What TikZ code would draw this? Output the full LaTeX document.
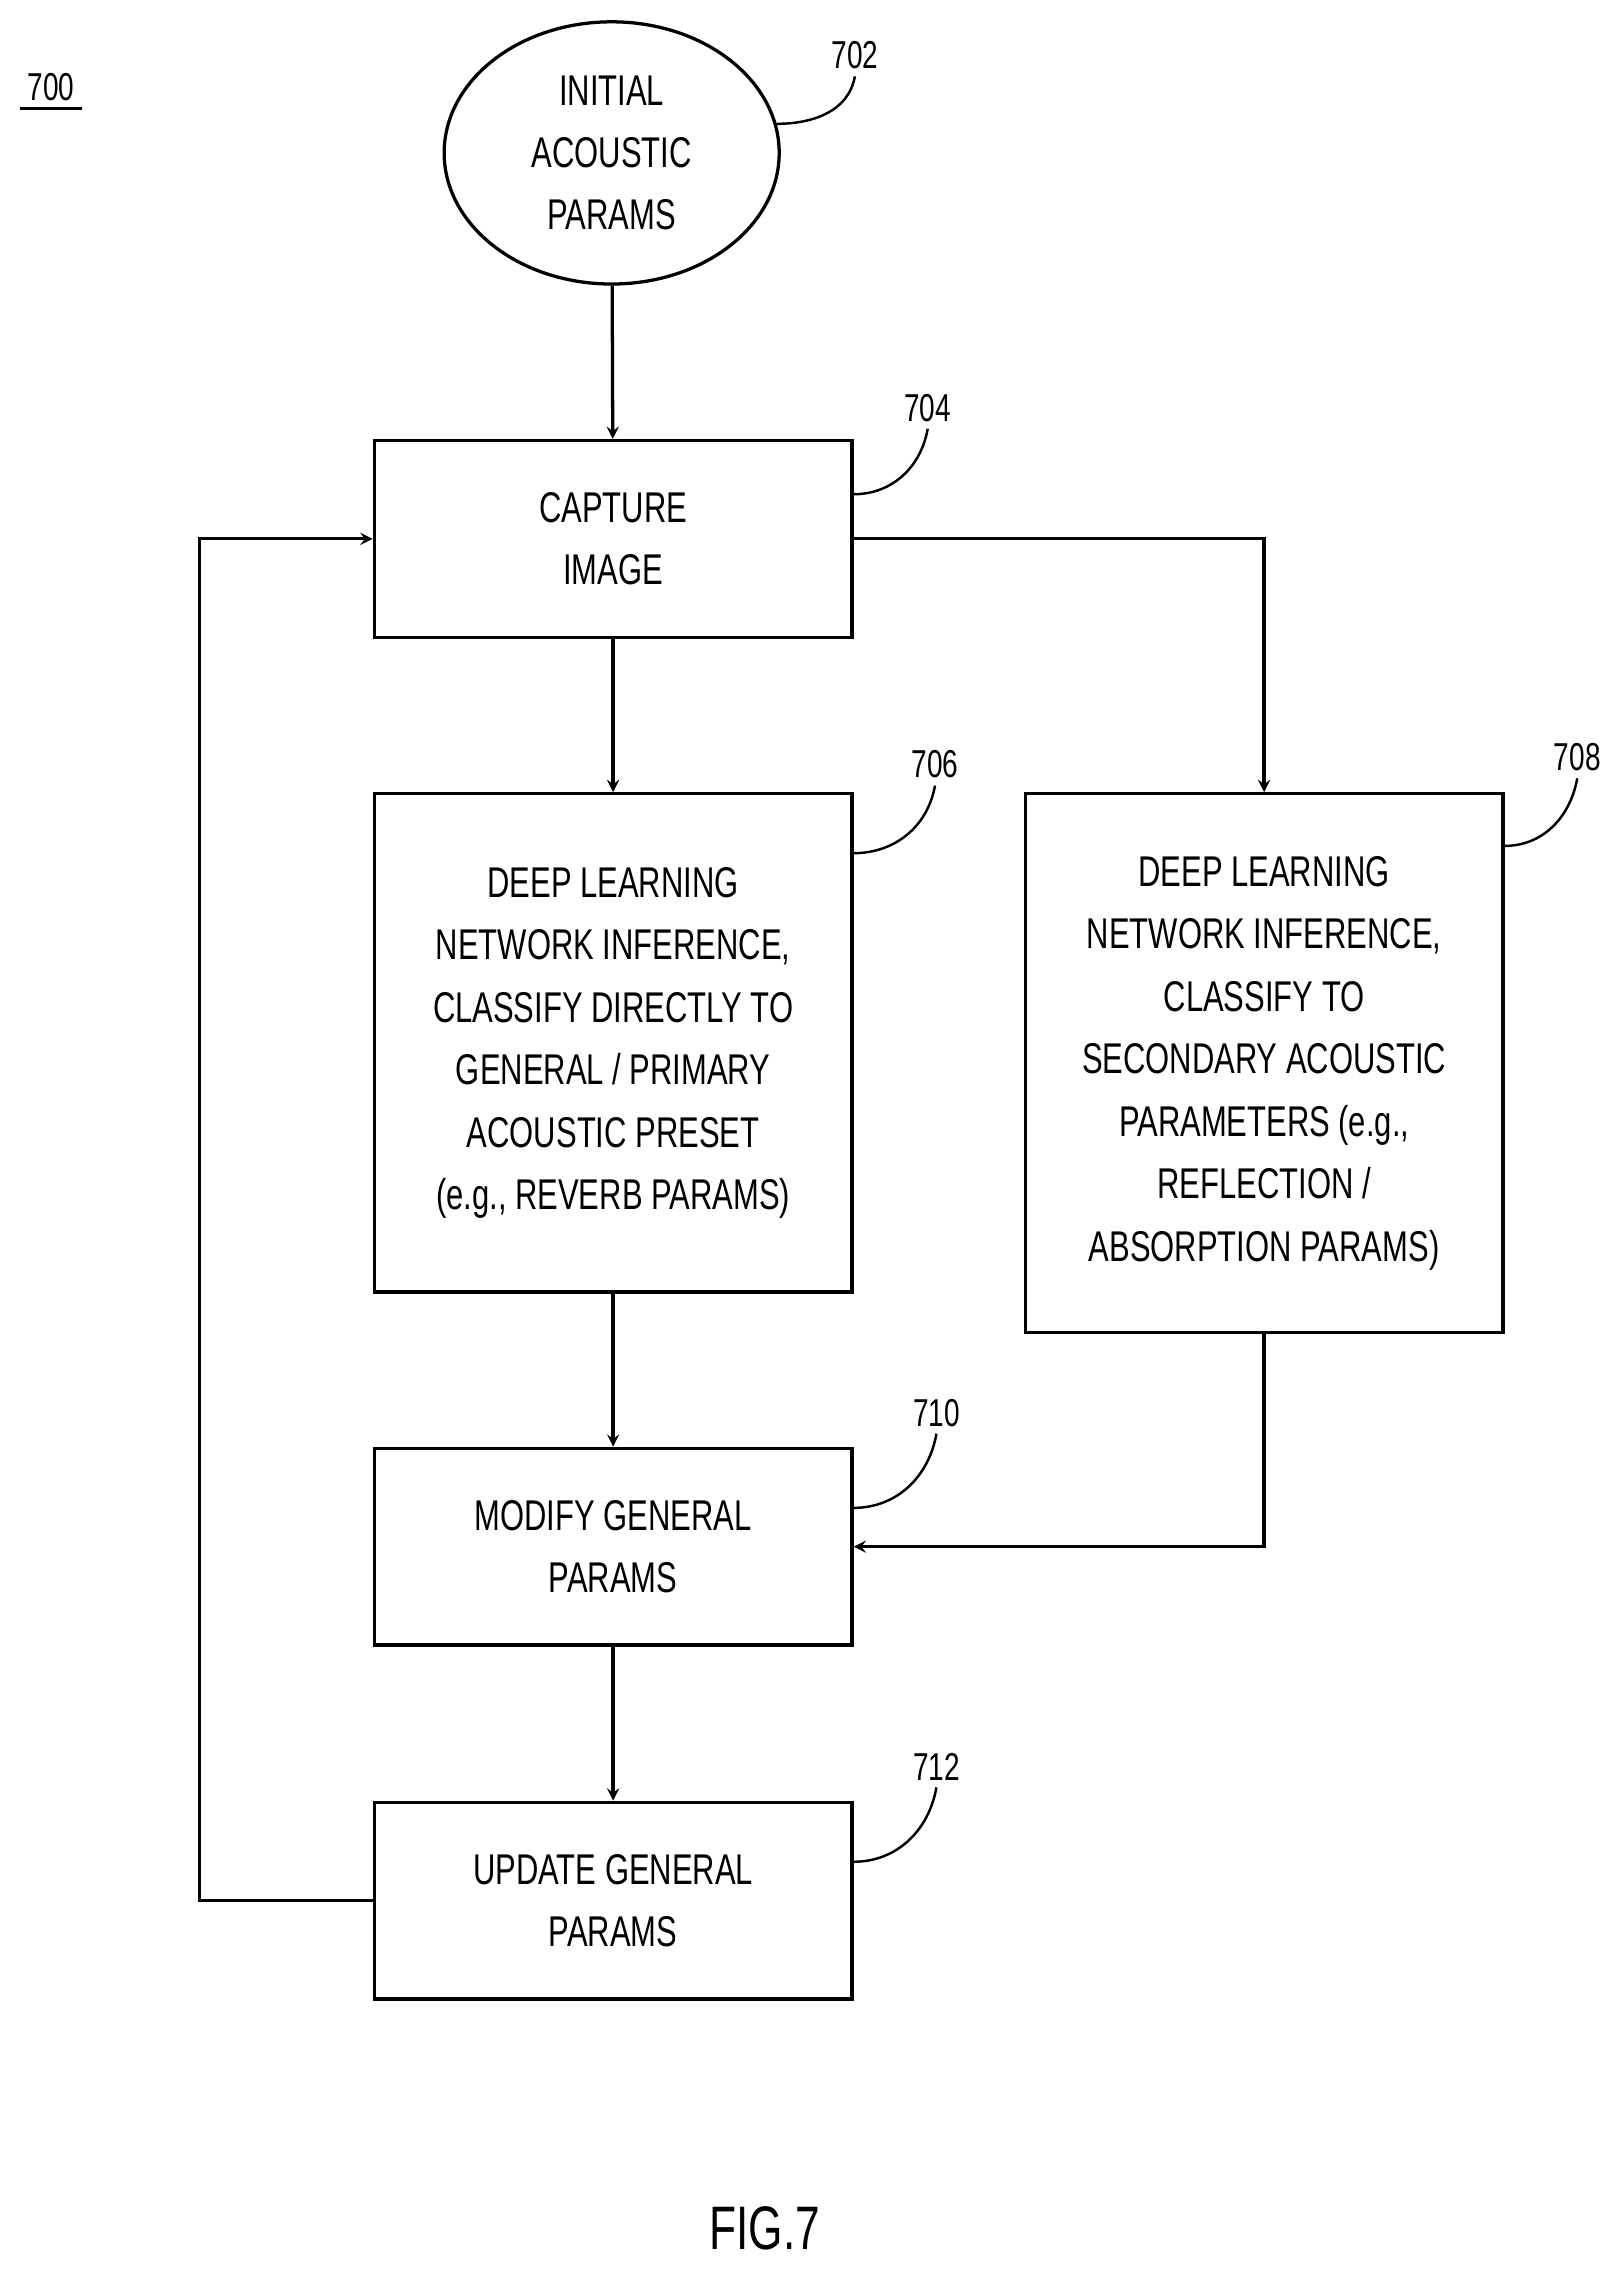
\documentclass[tikz,border=0pt]{standalone}
\usepackage{fontspec}
\setmainfont{Liberation Sans}[FakeStretch=0.72]
\usetikzlibrary{shapes.geometric,positioning}
\tikzset{
  stage/.style={draw, line width=1.6pt, minimum width=8.2cm, align=center,
    font=\fontsize{21}{30.5}\selectfont},
  flow/.style={->, line width=1.6pt, >=stealth},
  ref/.style={font=\fontsize{19}{22}\selectfont},
  lead/.style={line width=1.2pt}
}
\begin{document}
\begin{tikzpicture}[x=0.025cm,y=-0.025cm]
\useasboundingbox (0,0) rectangle (1110,1558);
% blocks of the flow
\node (start) [draw, ellipse, line width=1.6pt, minimum width=5.75cm, minimum height=4.5cm,
    align=center, font=\fontsize{21}{30.5}\selectfont] at (420,105) {INITIAL\\ACOUSTIC\\PARAMS};
\node (capture) [stage, minimum height=3.375cm] at (421,370) {CAPTURE\\IMAGE};
\node (primary) [stage, minimum height=8.55cm] at (421,716)
    {DEEP LEARNING\\NETWORK INFERENCE,\\CLASSIFY DIRECTLY TO\\GENERAL / PRIMARY\\ACOUSTIC PRESET\\(e.g., REVERB PARAMS)};
\node (secondary) [stage, minimum height=9.25cm] at (868,730)
    {DEEP LEARNING\\NETWORK INFERENCE,\\CLASSIFY TO\\SECONDARY ACOUSTIC\\PARAMETERS (e.g.,\\REFLECTION /\\ABSORPTION PARAMS)};
\node (modify) [stage, minimum height=3.375cm] at (421,1062) {MODIFY GENERAL\\PARAMS};
\node (update) [stage, minimum height=3.375cm] at (421,1305) {UPDATE GENERAL\\PARAMS};

% connectors
\draw[flow] (start) -- (capture);
\draw[flow] (capture) -- (primary);
\draw[flow] (primary) -- (modify);
\draw[flow] (modify) -- (update);
\draw[flow] (capture.east) -| (secondary.north);
\draw[flow] (secondary.south) |- (modify.east);
\coordinate (back) at (137,1305);
\draw[flow] (update.west) -- (back) |- (capture.west);

% reference numerals
\node (n700) [ref] at (35,60) {700};
\draw[lead] (n700.south west) -- (n700.south east);
\node (n702) [ref] at (587,38) {702};
\draw[lead] (start.10) to[out=0,in=-100] (n702.south);
\node (n704) [ref] at (637,280) {704};
\draw[lead] (capture.north east) ++(0,38) to[out=0,in=-100] (n704.south);
\node (n706) [ref] at (642,525) {706};
\draw[lead] (primary.north east) ++(0,42) to[out=0,in=-100] (n706.south);
\node (n708) [ref] at (1083,520) {708};
\draw[lead] (secondary.north east) ++(0,37) to[out=0,in=-100] (n708.south);
\node (n710) [ref] at (643,970) {710};
\draw[lead] (modify.north east) ++(0,42) to[out=0,in=-100] (n710.south);
\node (n712) [ref] at (643,1213) {712};
\draw[lead] (update.north east) ++(0,42) to[out=0,in=-100] (n712.south);

\node (fig) [font=\fontsize{30}{34}\selectfont] at (525,1530) {FIG.7};
\end{tikzpicture}
\end{document}
